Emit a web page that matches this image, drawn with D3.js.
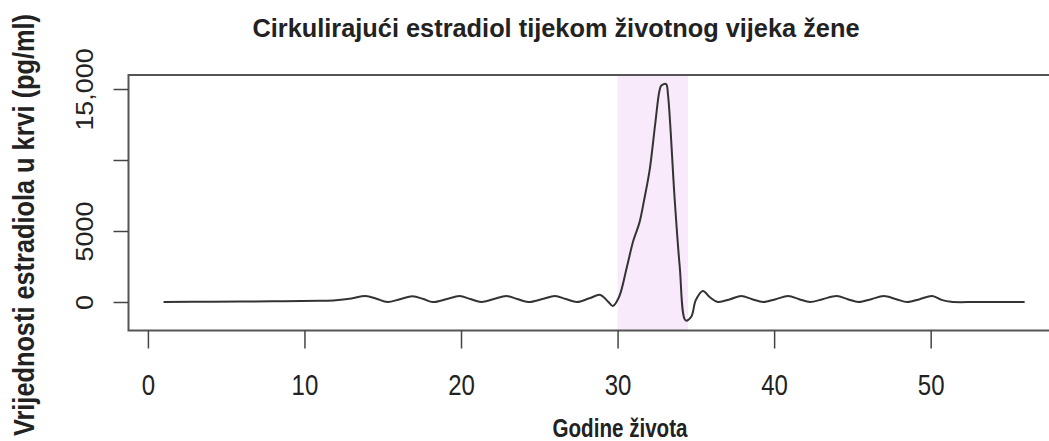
<!DOCTYPE html>
<html>
<head>
<meta charset="utf-8">
<script src="https://cdn.jsdelivr.net/npm/d3@7"></script>
<style>
  body { margin: 0; background: #fff; }
  text { font-family: "Liberation Sans", Arial, sans-serif; fill: #222; }
</style>
</head>
<body>
<div id="chart"></div>
<script>
// age (years) and estradiol (pg/ml)
const ages = [1, 4, 8, 11, 12, 13, 13.9, 14.6, 15.3, 16.1, 16.9, 17.6, 18.2, 19.1, 19.9, 20.6, 21.3,
  22.1, 22.9, 23.6, 24.3, 25.2, 26.0, 26.7, 27.4, 28.2, 28.9, 29.4, 29.7, 30.1, 30.6, 31.0, 31.4,
  31.7, 32.05, 32.4, 32.68, 32.8, 33.1, 33.22, 33.65, 33.97, 34.35, 34.7, 35.0, 35.45, 35.9, 36.4,
  37.2, 37.9, 38.6, 39.3, 40.1, 40.9, 41.6, 42.3, 43.1, 44.0, 44.7, 45.4, 46.2, 47.0, 47.8, 48.5,
  49.3, 50.1, 50.7, 51.3, 53, 56];
const estradiol = [0, 20, 50, 90, 130, 250, 420, 230, 0, 200, 400, 210, 0, 210, 420, 210, 0,
  210, 420, 210, 0, 210, 420, 210, 0, 260, 500, 20, -280, 370, 2490, 4300, 5600,
  7200, 9300, 12500, 14900, 15250, 15350, 14600, 7200, 2500, -1300, -1050, 140, 780, 330, 0,
  200, 420, 200, 0, 200, 420, 200, 0, 200, 420, 200, 0, 200, 420, 200, 0,
  200, 420, 150, 10, 0, 0];
const xTicks = [0, 10, 20, 30, 40, 50];
const yTicks = [0, 5000, 10000, 15000];
const yTickLabels = ["0", "5000", "", "15,000"];
const band = [30, 34.5];

const width = 1049, height = 441;
const plotLeft = 128.5, plotRight = 1052, plotTop = 75, plotBottom = 330.5;

const svg = d3.select("#chart").append("svg")
    .attr("width", width)
    .attr("height", height);

const x = d3.scaleLinear().domain([-1.24, 57.75]).range([plotLeft, plotRight]);
const y = d3.scaleLinear().domain([-2007, 15986]).range([plotBottom, plotTop]);

// shaded window
svg.append("rect")
    .attr("x", x(band[0]))
    .attr("width", x(band[1]) - x(band[0]))
    .attr("y", plotTop)
    .attr("height", plotBottom - plotTop)
    .attr("fill", "#f8eafa");

const line = d3.line()
    .x((d, i) => x(ages[i]))
    .y(d => y(d))
    .curve(d3.curveCatmullRom.alpha(0.5));

svg.append("path")
    .datum(estradiol)
    .attr("d", line)
    .attr("fill", "none")
    .attr("stroke", "#333")
    .attr("stroke-width", 2);

// box
svg.append("rect")
    .attr("x", plotLeft).attr("y", plotTop)
    .attr("width", plotRight - plotLeft).attr("height", plotBottom - plotTop)
    .attr("fill", "none")
    .attr("stroke", "#555")
    .attr("stroke-width", 2);

// x axis
const xAxis = svg.append("g")
    .attr("transform", `translate(0,${plotBottom})`)
    .call(d3.axisBottom(x).tickValues(xTicks).tickSize(18).tickFormat(d3.format("d")));
xAxis.select(".domain").remove();
xAxis.selectAll("line").attr("stroke", "#444").attr("stroke-width", 1.5);
xAxis.selectAll("text")
    .attr("y", 0).attr("dy", null)
    .attr("transform", "translate(0,64.5) scale(1,1.22)")
    .style("font-size", "24px")
    .attr("fill", "#222");

// y axis
const yAxis = svg.append("g")
    .attr("transform", `translate(${plotLeft},0)`)
    .call(d3.axisLeft(y).tickValues(yTicks).tickSize(15).tickFormat((d, i) => yTickLabels[i]));
yAxis.select(".domain").remove();
yAxis.selectAll("line").attr("stroke", "#444").attr("stroke-width", 1.5);
yAxis.selectAll("text")
    .attr("x", 0).attr("dy", null)
    .attr("text-anchor", "middle")
    .attr("transform", "translate(-36,0) rotate(-90) scale(1.12,1)")
    .style("font-size", "24px")
    .attr("fill", "#222");

// titles
svg.append("text")
    .attr("transform", "translate(556,37) scale(1,1.2)")
    .attr("text-anchor", "middle")
    .attr("textLength", 607)
    .attr("lengthAdjust", "spacingAndGlyphs")
    .style("font-size", "21px")
    .style("font-weight", "bold")
    .text("Cirkulirajući estradiol tijekom životnog vijeka žene");

svg.append("text")
    .attr("transform", "translate(620,437) scale(1,1.2)")
    .attr("text-anchor", "middle")
    .attr("textLength", 135)
    .attr("lengthAdjust", "spacingAndGlyphs")
    .style("font-size", "21px")
    .style("font-weight", "bold")
    .text("Godine života");

svg.append("text")
    .attr("transform", "translate(34,225) rotate(-90) scale(1,1.15)")
    .attr("text-anchor", "middle")
    .attr("textLength", 422)
    .attr("lengthAdjust", "spacingAndGlyphs")
    .style("font-size", "25px")
    .style("font-weight", "bold")
    .text("Vrijednosti estradiola u krvi (pg/ml)");
</script>
</body>
</html>
